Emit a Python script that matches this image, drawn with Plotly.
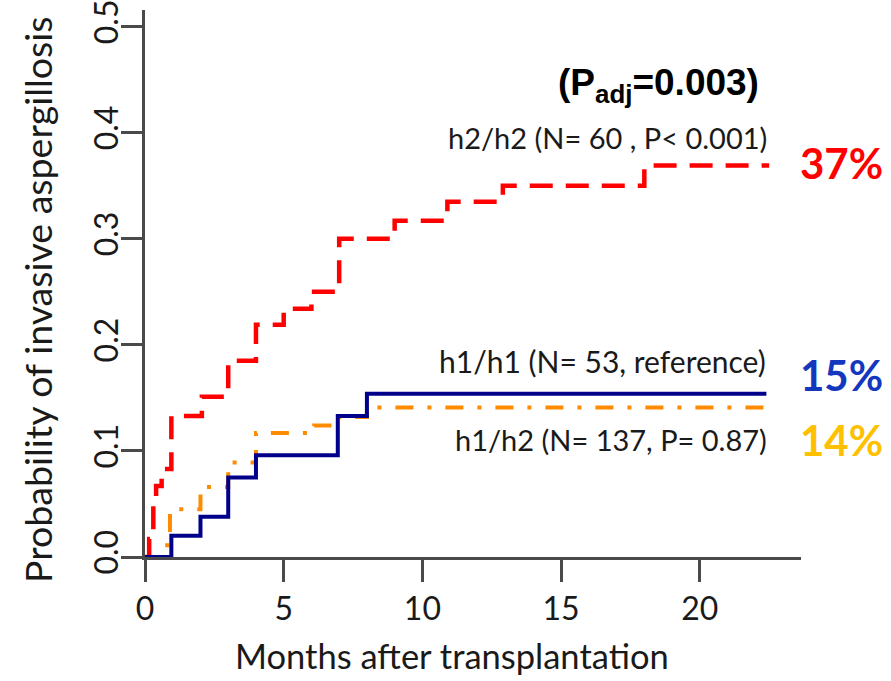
import plotly.graph_objects as go

# ---- data ----
months_h1h1 = [0, 0.95, 2.0, 3.0, 4.0, 6.95, 8.0, 22.4]
prob_h1h1 = [0, 0.020, 0.038, 0.075, 0.096, 0.133, 0.154, 0.154]

months_h1h2 = [0, 0.8, 0.9, 2.0, 3.0, 4.0, 6.1, 7.0, 8.0, 22.4]
prob_h1h2 = [0, 0.014, 0.045, 0.066, 0.089, 0.117, 0.124, 0.132, 0.141, 0.141]

months_h2h2 = [0, 0.15, 0.3, 0.4, 0.6, 0.95, 2.05, 3.0, 4.0, 5.0, 6.0, 7.0, 9.0, 10.9, 12.9, 18.0, 22.5]
prob_h2h2 = [0, 0.017, 0.05, 0.067, 0.083, 0.133, 0.151, 0.185, 0.219, 0.234, 0.25, 0.30, 0.317, 0.335, 0.350, 0.369, 0.369]

x_ticks = [0, 5, 10, 15, 20]
y_ticks = [0.0, 0.1, 0.2, 0.3, 0.4, 0.5]

label_h2h2 = "h2/h2 (N= 60 , P< 0.001)"
label_h1h1 = "h1/h1 (N= 53, reference)"
label_h1h2 = "h1/h2 (N= 137, P= 0.87)"
pct_h2h2, pct_h1h1, pct_h1h2 = "37%", "15%", "14%"

# ---- layout geometry ----
W, H = 891, 681
L, R, T, B = 145, 90, 10, 124
PW, PH = W - L - R, H - T - B


def px(x):
    return (x - L) / PW


def py(y):
    return (H - B - y) / PH


REG = "Lato"
fig = go.Figure()
fig.add_trace(go.Scatter(x=months_h2h2, y=prob_h2h2, mode="lines", line_shape="hv",
                         line=dict(color="#FF0000", width=4.5, dash="23px,13px")))
fig.add_trace(go.Scatter(x=months_h1h2, y=prob_h1h2, mode="lines", line_shape="hv",
                         line=dict(color="#FF8C00", width=4, dash="18px,14px,4px,14px")))
fig.add_trace(go.Scatter(x=months_h1h1, y=prob_h1h1, mode="lines", line_shape="hv",
                         line=dict(color="#00008B", width=4)))

ann = []
txt = dict(family=REG, size=29, color="#1a1a1a")
ann.append(dict(text="<b>(P<sub>adj</sub>=0.003)</b>", x=px(761), y=py(85), xanchor="right", yanchor="middle",
                font=dict(family="Liberation Sans", size=37, color="#000")))
ann.append(dict(text=label_h2h2, x=px(769), y=py(137), xanchor="right", yanchor="middle", font=txt))
ann.append(dict(text=label_h1h1, x=px(768), y=py(361), xanchor="right", yanchor="middle",
                font=dict(family=REG, size=30, color="#1a1a1a")))
ann.append(dict(text=label_h1h2, x=px(769), y=py(439), xanchor="right", yanchor="middle", font=txt))
ann.append(dict(text="<b>%s</b>" % pct_h2h2, x=px(885), y=py(163), xanchor="right", yanchor="middle",
                font=dict(family=REG, size=42, color="#FF0000")))
ann.append(dict(text="<b>%s</b>" % pct_h1h1, x=px(885), y=py(375), xanchor="right", yanchor="middle",
                font=dict(family=REG, size=42, color="#1338BE")))
ann.append(dict(text="<b>%s</b>" % pct_h1h2, x=px(885), y=py(440), xanchor="right", yanchor="middle",
                font=dict(family=REG, size=42, color="#FFC000")))
ann.append(dict(text="Months after transplantation", x=px(452), y=py(655), xanchor="center", yanchor="middle",
                font=dict(family=REG, size=34.5, color="#1a1a1a")))
ann.append(dict(text="Probability of invasive aspergillosis", x=px(37), y=py(300), xanchor="center",
                yanchor="middle", textangle=-90, font=dict(family=REG, size=37.5, color="#1a1a1a")))
for a in ann:
    a.update(xref="paper", yref="paper", showarrow=False)

fig.update_layout(
    template="none",
    width=W, height=H, margin=dict(l=L, r=R, t=T, b=B, autoexpand=False),
    paper_bgcolor="white", plot_bgcolor="white", showlegend=False,
    annotations=ann,
    xaxis=dict(range=[0, PW / 27.74], tickmode="array", tickvals=x_ticks,
               ticktext=[str(v) for v in x_ticks], automargin=False,
               showgrid=False, zeroline=False, showline=True, linecolor="#4a4a4a", linewidth=3,
               ticks="outside", ticklen=22, tickwidth=2.5, tickcolor="#4a4a4a",
               tickfont=dict(family=REG, size=32, color="#1a1a1a"), ticklabelstandoff=0),
    yaxis=dict(range=[0, 0.5157], tickmode="array", tickvals=y_ticks, automargin=False,
               ticktext=["%.1f" % v for v in y_ticks], ticklabeloverflow="allow",
               showgrid=False, zeroline=False, showline=True, linecolor="#4a4a4a", linewidth=3,
               ticks="outside", ticklen=21, tickwidth=2.5, tickcolor="#4a4a4a", tickangle=-90,
               tickfont=dict(family=REG, size=32, color="#1a1a1a"), ticklabelstandoff=-10),
)

fig.write_html("out.html", config={"displayModeBar": False},
               post_script="document.body.style.margin='0px';")
